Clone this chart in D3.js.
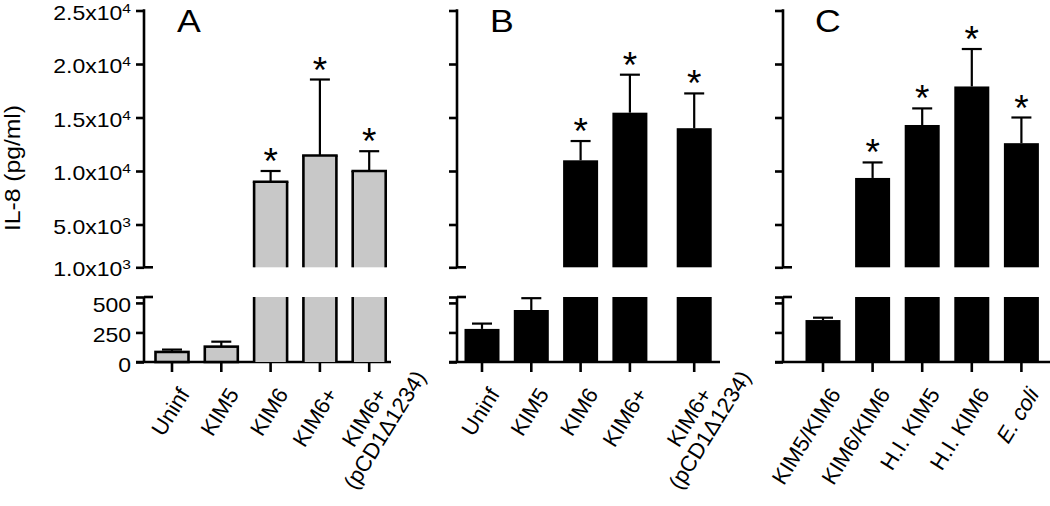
<!DOCTYPE html>
<html><head><meta charset="utf-8">
<script src="https://cdn.jsdelivr.net/npm/d3@7"></script>
<style>
body{margin:0;background:#fff}
text{font-family:"Liberation Sans",Arial,Helvetica,sans-serif;fill:#000}
</style>
</head><body>
<svg id="chart" width="1050" height="506"></svg>
<script>
// ---------- data ----------
const catsA = ["Uninf", "KIM5", "KIM6", "KIM6+", "KIM6+|(pCD1\u03941234)"];
const meanA = [85, 130, 9000, 11450, 10000];
const errA  = [20, 42, 1000, 7100, 1850];
const starA = [false, false, true, true, true];

const catsB = ["Uninf", "KIM5", "KIM6", "KIM6+", "KIM6+|(pCD1\u03941234)"];
const meanB = [280, 440, 11000, 15450, 14000];
const errB  = [45, 100, 1800, 3550, 3250];
const starB = [false, false, true, true, true];

const catsC = ["KIM5/KIM6", "KIM6/KIM6", "H.I. KIM5", "H.I. KIM6", "E. coli"];
const meanC = [355, 9350, 14300, 17900, 12600];
const errC  = [20, 1450, 1550, 3500, 2400];
const starC = [false, true, true, true, true];

const upperTicks = [1000, 5000, 10000, 15000, 20000, 25000];
const upperTickLabels = [["1.0x10","3"],["5.0x10","3"],["1.0x10","4"],["1.5x10","4"],["2.0x10","4"],["2.5x10","4"]];
const lowerTicks = [0, 250, 500];
const lowerTickLabels = ["0", "250", "500"];
const panelLetters = ["A", "B", "C"];
const yTitle = "IL-8 (pg/ml)";

// ---------- scales ----------
const svg = d3.select("#chart");
const yUp = d3.scaleLinear().domain([1000, 25000]).range([267.3, 10.5]);
const yLo = d3.scaleLinear().domain([0, 550]).range([362, 297]);
const BREAK_LO = 550, BREAK_UP = 1000;
function yv(v){ return v <= BREAK_LO ? yLo(v) : yUp(v); }

const panels = [
  {cats:catsA, mean:meanA, err:errA, star:starA, fill:"#c8c8c8", outline:true,
   axisX:144, first:172, step:49.3, extra:0, end:391, labels:true},
  {cats:catsB, mean:meanB, err:errB, star:starB, fill:"#000", outline:false,
   axisX:457, first:482, step:49.3, extra:15, end:720, labels:false},
  {cats:catsC, mean:meanC, err:errC, star:starC, fill:"#000", outline:false,
   axisX:783, first:823, step:49.6, extra:0, end:1050, labels:false}
];
const SW = 2.6;
const ANG = 58, LFS = 22;

panels.forEach((p, pi) => {
  const g = svg.append("g");
  const xs = d3.scaleOrdinal().domain(p.cats)
    .range(p.cats.map((c,i) => p.first + i*p.step + (i === p.cats.length-1 ? p.extra : 0)));
  const ax = p.axisX;

  // upper axis
  const upAxis = d3.axisLeft(yUp).tickValues(upperTicks).tickSize(8).tickFormat("");
  const ua = g.append("g").attr("transform", `translate(${ax},0)`).call(upAxis);
  ua.select(".domain").remove();
  ua.selectAll("line").attr("stroke", "#000").attr("stroke-width", SW);
  g.append("line").attr("x1", ax).attr("x2", ax).attr("y1", yUp(25000)-1.3).attr("y2", yUp(1000))
    .attr("stroke", "#000").attr("stroke-width", SW);
  g.append("line").attr("x1", ax).attr("x2", ax+9).attr("y1", yUp(1000)).attr("y2", yUp(1000))
    .attr("stroke", "#000").attr("stroke-width", SW);

  // lower axis
  const loAxis = d3.axisLeft(yLo).tickValues(lowerTicks.concat([BREAK_LO])).tickSize(8).tickFormat("");
  const la = g.append("g").attr("transform", `translate(${ax},0)`).call(loAxis);
  la.select(".domain").remove();
  la.selectAll("line").attr("stroke", "#000").attr("stroke-width", SW);
  g.append("line").attr("x1", ax).attr("x2", ax).attr("y1", yLo(BREAK_LO)).attr("y2", yLo(0))
    .attr("stroke", "#000").attr("stroke-width", SW);
  g.append("line").attr("x1", ax).attr("x2", ax+9).attr("y1", yLo(BREAK_LO)).attr("y2", yLo(BREAK_LO))
    .attr("stroke", "#000").attr("stroke-width", SW);
  // baseline
  g.append("line").attr("x1", ax-8).attr("x2", p.end).attr("y1", yLo(0)).attr("y2", yLo(0))
    .attr("stroke", "#000").attr("stroke-width", SW);

  // bars
  const bw = p.outline ? 33 : 35;
  p.cats.forEach((c, i) => {
    const cx = xs(c), m = p.mean[i], x0 = cx - bw/2;
    const strokeAttr = p.outline ? "#000" : "none";
    if (m <= BREAK_LO) {
      g.append("rect").attr("x", x0).attr("width", bw).attr("y", yLo(m)).attr("height", yLo(0)-yLo(m))
        .attr("fill", p.fill).attr("stroke", strokeAttr).attr("stroke-width", SW);
    } else {
      g.append("rect").attr("x", x0).attr("width", bw).attr("y", yLo(BREAK_LO)).attr("height", yLo(0)-yLo(BREAK_LO))
        .attr("fill", p.fill);
      g.append("rect").attr("x", x0).attr("width", bw).attr("y", yUp(m)).attr("height", yUp(BREAK_UP)-yUp(m))
        .attr("fill", p.fill);
      if (p.outline) {
        [x0, x0+bw].forEach(a => {
          g.append("line").attr("x1",a).attr("x2",a).attr("y1",yLo(BREAK_LO)).attr("y2",yLo(0)).attr("stroke","#000").attr("stroke-width",SW);
          g.append("line").attr("x1",a).attr("x2",a).attr("y1",yUp(m)).attr("y2",yUp(BREAK_UP)).attr("stroke","#000").attr("stroke-width",SW);
        });
        g.append("line").attr("x1",x0-SW/2).attr("x2",x0+bw+SW/2).attr("y1",yUp(m)).attr("y2",yUp(m)).attr("stroke","#000").attr("stroke-width",SW);
      }
    }
    // error bar
    const top = yv(m + p.err[i]);
    g.append("line").attr("x1", cx).attr("x2", cx).attr("y1", yv(m)).attr("y2", top)
      .attr("stroke", "#000").attr("stroke-width", 2.2);
    g.append("line").attr("x1", cx-10).attr("x2", cx+10).attr("y1", top).attr("y2", top)
      .attr("stroke", "#000").attr("stroke-width", 2.2);
    if (p.star[i]) {
      g.append("text").attr("x", cx).attr("y", top + 3).attr("text-anchor", "middle")
        .attr("font-size", 37).text("*");
    }
    // x tick
    g.append("line").attr("x1", cx).attr("x2", cx).attr("y1", yLo(0)).attr("y2", yLo(0)+10)
      .attr("stroke", "#000").attr("stroke-width", SW);
    // x label
    const parts = c.split("|");
    const lg = g.append("g").attr("transform", `translate(${cx+18.5},394) rotate(${-ANG})`);
    const t1 = lg.append("text").attr("text-anchor", "end").attr("font-size", LFS)
      .attr("font-style", c === "E. coli" ? "italic" : null).text(parts[0]);
    if (parts.length > 1) {
      const w1 = t1.node().getComputedTextLength();
      lg.append("text").attr("text-anchor", "middle").attr("x", -w1/2).attr("y", 24)
        .attr("font-size", LFS).text(parts[1]);
    }
  });

  // panel letter
  g.append("text").attr("transform", `translate(${[177,490,815][pi]},32) scale(1.15,1)`)
    .attr("font-size", 31).text(panelLetters[pi]);

  // tick labels (panel A only)
  if (p.labels) {
    upperTicks.forEach((v, i) => {
      const t = g.append("text").attr("transform", `translate(${ax-13},${yUp(v)+9}) scale(1.15,1)`)
        .attr("text-anchor", "end").attr("font-size", 20);
      t.append("tspan").text(upperTickLabels[i][0]);
      t.append("tspan").attr("font-size", 13.5).attr("dy", -7).text(upperTickLabels[i][1]);
    });
    lowerTicks.forEach((v, i) => {
      g.append("text").attr("transform", `translate(${ax-13},${yLo(v)+9.5}) scale(1.15,1)`)
        .attr("text-anchor", "end").attr("font-size", 20).text(lowerTickLabels[i]);
    });
  }
});

// y title
svg.append("text").attr("transform", "translate(20,168) rotate(-90)")
  .attr("text-anchor", "middle").attr("font-size", 21.5)
  .attr("textLength", 126).attr("lengthAdjust", "spacingAndGlyphs").text(yTitle);
</script>
</body></html>
